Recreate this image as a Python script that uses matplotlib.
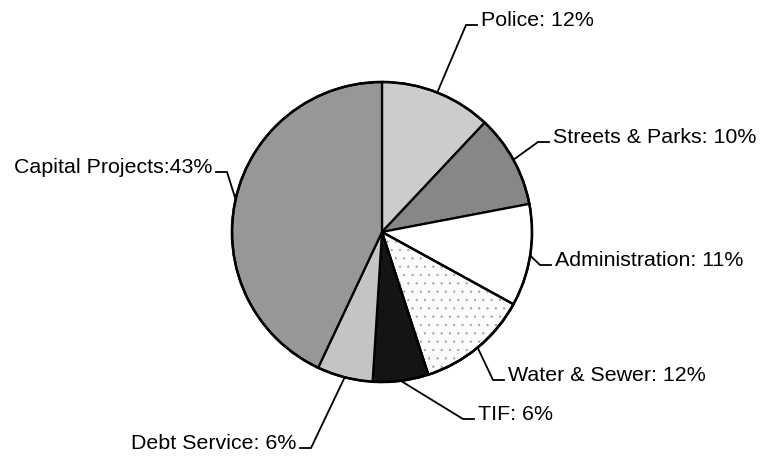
import numpy as np
import matplotlib.pyplot as plt
from matplotlib.patches import Wedge

plt.rcParams['font.family'] = ['Liberation Sans', 'DejaVu Sans']
plt.rcParams['hatch.linewidth'] = 0.4

# budget shares, clockwise from 12 o'clock
categories = ["Police", "Streets & Parks", "Administration", "Water & Sewer",
              "TIF", "Debt Service", "Capital Projects"]
shares = [12, 10, 11, 12, 6, 6, 43]
labels = ["Police: 12%", "Streets & Parks: 10%", "Administration: 11%",
          "Water & Sewer: 12%", "TIF: 6%", "Debt Service: 6%",
          "Capital Projects:43%"]

# layout (pixels, y measured from the top of the image)
W, H = 761, 459
center = (382, H - 232)
radius = 150
colors = ["#cccccc", "#878787", "#ffffff", "#fbfbfb", "#141414", "#c4c4c4", "#979797"]
hatches = [None, None, None, "..", None, None, None]
# text anchor (x, baseline y) and side of the leader
label_pos = [(481, 26, "r"), (553, 143, "r"), (555, 266, "r"), (508, 381, "r"),
             (478, 420, "r"), (296, 449, "l"), (212, 173, "l")]

fig = plt.figure(figsize=(W / 100, H / 100), dpi=100)
ax = fig.add_axes([0, 0, 1, 1])

wedges, _ = ax.pie(shares, center=center, radius=radius, startangle=90,
                   counterclock=False, colors=colors,
                   wedgeprops=dict(edgecolor="black", linewidth=1.6))
# light dotted texture drawn as an overlay so the dots stay grey
for w, h in zip(wedges, hatches):
    if h:
        ax.add_patch(Wedge(w.center, w.r, w.theta1, w.theta2, fill=False,
                           hatch=h, edgecolor="#a0a0a0", linewidth=0, zorder=w.zorder + 0.1))
        ax.add_patch(Wedge(w.center, w.r, w.theta1, w.theta2, fill=False,
                           edgecolor="black", linewidth=1.6, zorder=w.zorder + 0.2))
ax.add_patch(plt.Circle(center, radius, fill=False, edgecolor="black", linewidth=1.8, zorder=3))

for w, lab, (tx, ty, side) in zip(wedges, labels, label_pos):
    mid = np.deg2rad((w.theta1 + w.theta2) / 2)
    px = center[0] + radius * np.cos(mid)
    py = center[1] + radius * np.sin(mid)
    yb = H - ty
    if side == "r":
        hook_end = tx - 4
        elbow = tx - 15
        ha = "left"
    else:
        hook_end = tx + 4
        elbow = tx + 15
        ha = "right"
    ax.plot([px, elbow, hook_end], [py, yb + 1, yb + 1], color="black", lw=1.3,
            solid_joinstyle="miter")
    ax.text(tx, yb, lab, ha=ha, va="baseline", fontsize=15.4, color="black")

ax.set_aspect("auto")
ax.set_xlim(0, W)
ax.set_ylim(0, H)
ax.axis('off')

fig.savefig("out.png", dpi=100)
